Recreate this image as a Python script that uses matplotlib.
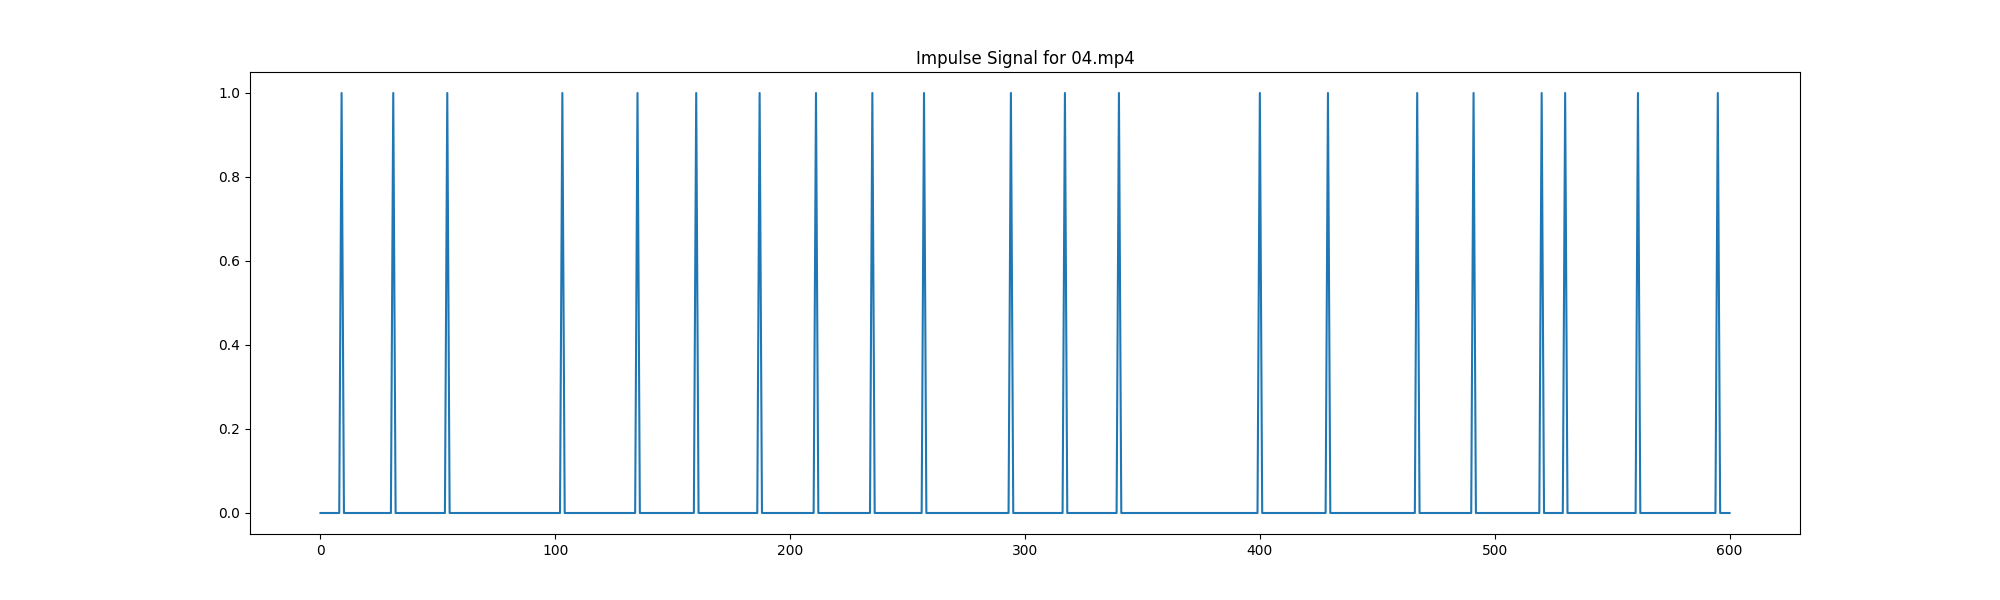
import numpy as np
import matplotlib
matplotlib.use("Agg")
from matplotlib import pyplot as plt

# Frames where an impulse occurs
n_frames = 601
peak_frames = [9, 31, 54, 103, 135, 160, 187, 211, 235, 257, 294, 317, 340,
               400, 429, 467, 491, 520, 530, 561, 595]

# Build impulse signal
signal = np.zeros(n_frames)
signal[peak_frames] = 1

fig, ax = plt.subplots(figsize=(20, 6), dpi=100)
ax.plot(np.arange(n_frames), signal)
ax.set_title("Impulse Signal for 04.mp4")

plt.savefig("out.png")
